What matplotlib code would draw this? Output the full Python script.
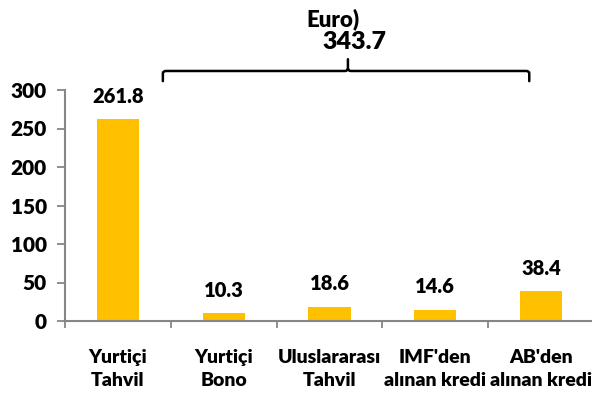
import matplotlib
matplotlib.use("Agg")
import matplotlib.pyplot as plt
from matplotlib.path import Path
from matplotlib.patches import PathPatch

# data
categories = ["Yurtiçi\nTahvil", "Yurtiçi\nBono", "Uluslararası\nTahvil",
              "IMF'den\nalınan kredi", "AB'den\nalınan kredi"]
values = [261.8, 10.3, 18.6, 14.6, 38.4]
yticks = [0, 50, 100, 150, 200, 250, 300]
title_fragment = "Euro)"

bar_color = "#FFC000"
axis_color = "#868686"
wt = "heavy"
plt.rcParams["font.family"] = ["Lato", "DejaVu Sans"]
plt.rcParams["font.weight"] = wt

fig = plt.figure(figsize=(5.92, 4.0), dpi=100)
ax = fig.add_axes([0.1098, 0.1975, 0.8936, 0.5775])

x = list(range(len(values)))
ax.bar(x, values, width=0.4, color=bar_color, zorder=2)

for xi, v in zip(x, values):
    ax.annotate(f"{v:.1f}", (xi, v), xytext=(0, 16.5), textcoords="offset points",
                ha="center", va="center", fontsize=14.5, fontweight=wt)

ax.set_xlim(-0.5, len(values) - 0.5)
ax.set_ylim(0, 300)
ax.set_yticks(yticks)
ax.set_yticklabels([str(t) for t in yticks], fontsize=15, fontweight=wt)

# category ticks sit on the boundaries, labels in the middle
ax.set_xticks([i - 0.5 for i in range(len(values) + 1)])
ax.set_xticklabels([])
ax.set_xticks(x, minor=True)
ax.set_xticklabels(categories, minor=True, fontsize=14, fontweight=wt,
                   linespacing=1.45)
ax.tick_params(axis="x", which="minor", length=0, pad=20)
ax.tick_params(axis="x", which="major", length=5, color=axis_color, width=1.3)
ax.tick_params(axis="y", length=6, color=axis_color, width=1.3, pad=7)

for side in ["top", "right"]:
    ax.spines[side].set_visible(False)
for side in ["left", "bottom"]:
    ax.spines[side].set_color(axis_color)
    ax.spines[side].set_linewidth(1.5)

# brace over the non-first categories with the grand total
bx0, bx1, bxm = 0.425, 3.888, 2.174
y_end, y_bar, y_tip = 311.5, 324.7, 340.0
r = 0.03
verts = [(bx0, y_end), (bx0, y_bar - 3), (bx0, y_bar), (bx0 + r, y_bar),
         (bxm - r, y_bar), (bxm, y_bar), (bxm, y_bar + 3), (bxm, y_tip),
         (bxm, y_bar + 3), (bxm, y_bar), (bxm + r, y_bar),
         (bx1 - r, y_bar), (bx1, y_bar), (bx1, y_bar - 3), (bx1, y_end)]
codes = [Path.MOVETO, Path.LINETO, Path.CURVE3, Path.CURVE3,
         Path.LINETO, Path.CURVE3, Path.CURVE3, Path.LINETO,
         Path.MOVETO, Path.CURVE3, Path.CURVE3,
         Path.LINETO, Path.CURVE3, Path.CURVE3, Path.LINETO]
brace = PathPatch(Path(verts, codes), facecolor="none", edgecolor="black",
                  linewidth=1.8, clip_on=False, capstyle="round")
ax.add_patch(brace)

ax.text(2.235, 362, f"{sum(values):.1f}", ha="center", va="center",
        fontsize=18, fontweight=wt, clip_on=False)
ax.text(2.03, 392, title_fragment, ha="center", va="center",
        fontsize=16, fontweight=wt, clip_on=False)

fig.savefig("out.png", dpi=100)
